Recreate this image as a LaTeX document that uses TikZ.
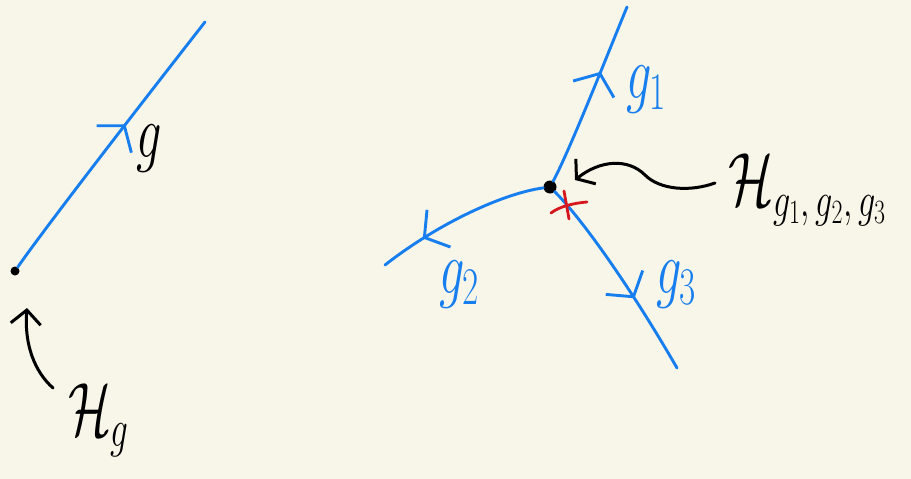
\RequirePackage{fix-cm}
\documentclass[tikz,border=0pt]{standalone}
\usepackage{graphicx}
\usetikzlibrary{arrows.meta,decorations.markings}
\definecolor{bg}{RGB}{248,245,233}
\definecolor{pen}{RGB}{22,126,238}
\definecolor{redpen}{RGB}{214,24,30}
\newcommand{\hw}[1]{\scalebox{0.9}[1.35]{#1}}
\tikzset{
  edge/.style={draw=pen, line width=2.9pt, line cap=round, line join=round},
  midarrow/.style={postaction={decorate}, decoration={markings,
      mark=at position #1 with {\arrow[pen, line width=2.9pt]{Straight Barb[length=17pt,width=44pt]}}}},
  ink/.style={draw=black, line width=3pt, line cap=round, line join=round},
  vdot/.style={circle, fill=black, inner sep=0pt, minimum size=#1},
  lbl/.style={inner sep=0pt, font=\fontsize{56}{60}\selectfont},
}
\begin{document}
\begin{tikzpicture}[x=1pt,y=-1pt]
\useasboundingbox (0,0) rectangle (911,479);
\fill[bg] (0,0) rectangle (911,479);

% ---------- left diagram ----------
\node[vdot=9pt] (v0) at (15,271) {};
\coordinate (e0) at (205,22);
\draw[edge, midarrow=0.58] (v0) .. controls (45,228) and (130,118) .. (e0);
\node[lbl, anchor=base west] (lg) at (136,157) {\hw{$g$}};

\node[lbl, anchor=base west] (lH) at (68,435) {\hw{$\mathcal{H}_g$}};
\coordinate (a0s) at (53,388);
\coordinate (a0t) at (27,308);
\draw[ink, -{Straight Barb[length=14pt,width=30pt]}] (a0s) .. controls (35,372) and (24,345) .. (a0t);

% ---------- right diagram ----------
\node[vdot=13pt] (v) at (550,187) {};
\coordinate (e1) at (627,7);
\coordinate (e2) at (385,265);
\coordinate (e3) at (677,368);
\draw[edge, midarrow=0.63] (v) .. controls (570,150) and (610,48) .. (e1);
\draw[edge, midarrow=0.74] (v) .. controls (505,193) and (440,222) .. (e2);
\draw[edge, midarrow=0.62] (v) .. controls (585,222) and (635,295) .. (e3);

\node[lbl, anchor=base west, text=pen] (g1) at (626,98) {\hw{$g_1$}};
\node[lbl, anchor=base west, text=pen] (g2) at (439,293) {\hw{$g_2$}};
\node[lbl, anchor=base west, text=pen] (g3) at (656,293) {\hw{$g_3$}};

% red cross
\draw[redpen, line width=2.8pt, line cap=round] (551,213) .. controls (560,206) and (575,203) .. (587,202);
\draw[redpen, line width=2.8pt, line cap=round] (564,191) -- (569,219);

% label and wavy arrow
\node[lbl, anchor=base west] (rH) at (728,205) {\scalebox{0.95}[1.35]{$\mathcal{H}_{\mbox{\fontsize{36}{40}\selectfont$g_1,g_2,g_3$}}$}};
\coordinate (hs) at (715,183);
\coordinate (ht) at (575,180);
\draw[ink, -{Straight Barb[length=12pt,width=32pt]}] (hs) .. controls (690,192) and (660,190) .. (645,175) .. controls (628,158) and (600,160) .. (ht);
\end{tikzpicture}
\end{document}
